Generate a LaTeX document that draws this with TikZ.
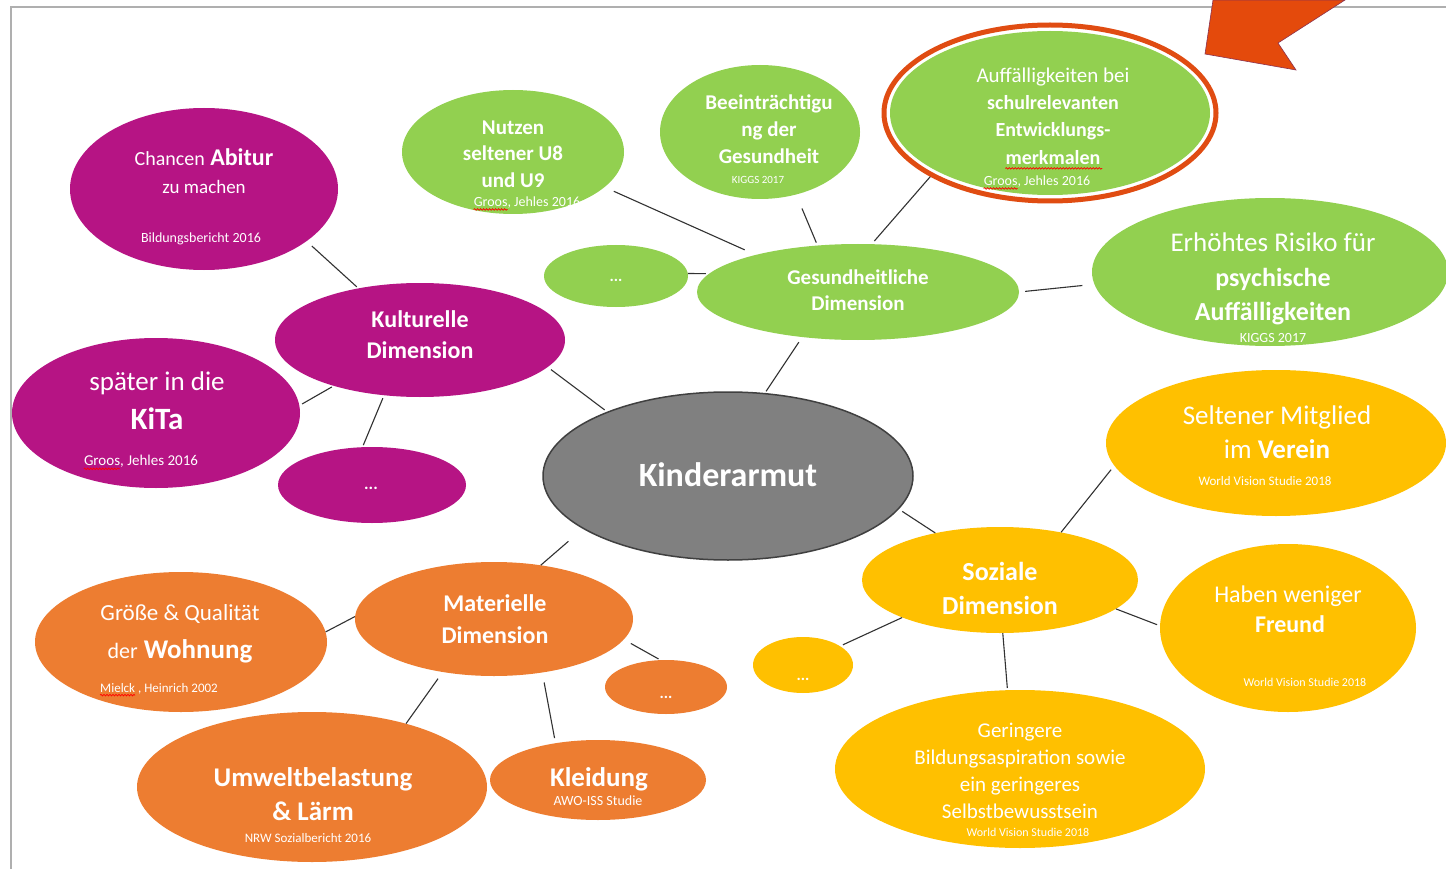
\documentclass[tikz,border=0pt]{standalone}
\usepackage{fontspec}
\setmainfont{Carlito}
\usetikzlibrary{shapes.geometric,decorations.pathmorphing,calc}
\definecolor{cmag}{RGB}{182,20,132}
\definecolor{cgreen}{RGB}{146,208,80}
\definecolor{corange}{RGB}{237,125,49}
\definecolor{cgold}{RGB}{255,192,0}
\definecolor{cgray}{RGB}{128,128,128}
\definecolor{cdark}{RGB}{64,64,64}
\definecolor{cline}{RGB}{50,50,50}
\definecolor{cred}{RGB}{224,76,18}
\definecolor{carrow}{RGB}{228,74,12}
\definecolor{carrowline}{RGB}{140,50,80}
\definecolor{cframe}{RGB}{175,175,175}
\newcommand\myfs[1]{\fontsize{#1}{#1}\selectfont}
\begin{document}
\begin{tikzpicture}[x=1pt,y=-1pt,
  bub/.style n args={3}{ellipse, inner sep=0pt, minimum width=#1pt, minimum height=#2pt, fill=#3},
  tx/.style={text=white, inner sep=0pt, anchor=base, yshift={-0.32*#1pt}, font=\myfs{#1}},
  tb/.style={text=white, inner sep=0pt, anchor=base, yshift={-0.32*#1pt}, font=\myfs{#1}\bfseries},
  conn/.style={draw=cline, line width=1.1pt},
  wavy/.style={draw=red, line width=0.7pt, decorate, decoration={snake, amplitude=0.8pt, segment length=3pt}}
]
\useasboundingbox[fill=white] (0,0) rectangle (1446,869);
% frame
\draw[cframe, line width=2pt] (11,870) -- (11,7) -- (1447,7);
% arrow
\filldraw[fill=carrow, draw=carrowline, line width=0.6pt] (1205,54) -- (1296,70) -- (1278,43) -- (1345,0) -- (1213,0) -- cycle;

% bubbles
\node[bub={268}{162}{cmag}] (abitur) at (204,189) {};
\node[bub={290}{114}{cmag}] (kult) at (420,340) {};
\node[bub={288}{150}{cmag}] (kita) at (156,413) {};
\node[bub={188}{76}{cmag}] (kdots) at (372,485) {};
\node[bub={222}{124}{cgreen}] (nutzen) at (513,152) {};
\node[bub={200}{134}{cgreen}] (beein) at (760,132) {};
\node[ellipse, draw=cred, line width=5pt, minimum width=332pt, minimum height=176pt, inner sep=0pt] (ring) at (1050,113) {};
\node[bub={320}{164}{cgreen}] (auff) at (1050,113) {};
\node[bub={144}{62}{cgreen}] (gdots) at (616,276) {};
\node[bub={322}{96}{cgreen}] (ges) at (858,292) {};
\node[bub={356}{148}{cgreen}] (risiko) at (1270,272) {};
\node[bub={370}{168}{cgray}, draw=cdark, line width=1.5pt] (kinder) at (728,476) {};
\node[bub={340}{146}{cgold}] (verein) at (1276,443) {};
\node[bub={276}{106}{cgold}] (soz) at (1000,580) {};
\node[bub={256}{168}{cgold}] (freund) at (1288,628) {};
\node[bub={100}{56}{cgold}] (sdots) at (803,665) {};
\node[bub={370}{158}{cgold}] (gering) at (1020,769) {};
\node[bub={292}{140}{corange}] (wohn) at (181,642) {};
\node[bub={278}{114}{corange}] (mat) at (494,619) {};
\node[bub={122}{54}{corange}] (mdots) at (666,687) {};
\node[bub={350}{150}{corange}] (umwelt) at (312,787) {};
\node[bub={216}{80}{corange}] (kleid) at (598,780) {};

% connectors
\draw[conn, shorten <=7pt, shorten >=2pt] (abitur.-27) -- (kult.140);
\draw[conn, shorten <=3pt, shorten >=2pt] (kita.3) -- (kult.208);
\draw[conn, shorten <=3pt, shorten >=2pt] (kult.237) -- (kdots.104);
\draw[conn, shorten <=4pt, shorten >=3pt] (kult.-12) -- (kinder.152);
\draw[conn, shorten <=10pt, shorten >=12pt] (nutzen.-21) -- (ges.160);
\draw[conn, shorten <=15pt, shorten >=3pt] (beein.-60) -- (ges.131);
\draw[conn, shorten >=4pt] (ring.208) -- (ges.74);
\draw[conn, shorten >=3pt] (gdots.2) -- (ges.173);
\draw[conn, shorten <=6pt, shorten >=12pt] (ges.0) -- (risiko.184);
\draw[conn, shorten <=6pt, shorten >=2pt] (ges.219) -- (kinder.66);
\draw[conn, shorten <=4pt] (kinder.-11) -- (soz.144);
\draw[conn, shorten <=19pt] (kinder.200) -- (mat.49);
\draw[conn, shorten >=5pt] (soz.38) -- (verein.188);
\draw[conn, shorten >=3pt] (soz.-14) -- (freund.179);
\draw[conn, shorten >=3pt] (soz.201) -- (sdots.27);
\draw[conn, shorten >=2pt] (soz.-87) -- (gering.99);
\draw[conn] (wohn.4) -- (mat.179);
\draw[conn, shorten <=8pt, shorten >=2pt] (mat.-9) -- (mdots.102);
\draw[conn, shorten <=8pt] (mat.226) -- (umwelt.34);
\draw[conn, shorten <=10pt, shorten >=5pt] (mat.-48) -- (kleid.139);

% texts
\node[tx=24] (abitur1) at (204,158) {{\myfs{20}Chancen} \textbf{Abitur}};
\node[tx=19] (abitur2) at (204,187) {zu machen};
\node[tx=14] (abitur3) at (201,238) {Bildungsbericht 2016};

\node[tb=24] (kult1) at (420,320) {Kulturelle};
\node[tb=24] (kult2) at (420,351) {Dimension};

\node[tx=27] (kita1) at (157,382) {später in die};
\node[tb=31] (kita2) at (157,420) {KiTa};
\node[tx=15] (kita3) at (141,461) {Groos, Jehles 2016};
\node[tb=17] (kdots1) at (371,484) {...};

\node[tb=21] (nutzen1) at (513,128) {Nutzen};
\node[tb=21] (nutzen2) at (513,154) {seltener U8};
\node[tb=21] (nutzen3) at (513,181) {und U9};
\node[tx=14] (nutzen4) at (527,202) {Groos, Jehles 2016};

\node[tb=21] (beein1) at (769,103) {Beeinträchtigu};
\node[tb=21] (beein2) at (769,130) {ng der};
\node[tb=21] (beein3) at (769,157) {Gesundheit};
\node[tx=11] (beein4) at (758,180) {KIGGS 2017};

\node[tx=21] (auff1) at (1053,76) {Auffälligkeiten bei};
\node[tb=20] (auff2) at (1053,103) {schulrelevanten};
\node[tb=20] (auff3) at (1053,130) {Entwicklungs-};
\node[tb=20] (auff4) at (1053,158) {merkmalen};
\node[tx=14] (auff5) at (1037,181) {Groos, Jehles 2016};

\node[tb=16] (gdots1) at (616,276) {...};
\node[tb=21] (ges1) at (858,278) {Gesundheitliche};
\node[tb=21] (ges2) at (858,304) {Dimension};

\node[tx=27] (risiko1) at (1273,243) {Erhöhtes Risiko für};
\node[tb=26] (risiko2) at (1273,278) {psychische};
\node[tb=26] (risiko3) at (1273,312) {Auffälligkeiten};
\node[tx=14] (risiko4) at (1273,338) {KIGGS 2017};

\node[tb=34] (kinder1) at (728,476) {Kinderarmut};

\node[tx=27] (verein1) at (1277,416) {Seltener Mitglied};
\node[tx=27] (verein2) at (1277,450) {im \textbf{Verein}};
\node[tx=13] (verein3) at (1265,481) {World Vision Studie 2018};

\node[tb=26] (soz1) at (1000,572) {Soziale};
\node[tb=26] (soz2) at (1000,606) {Dimension};

\node[tx=24] (freund1) at (1288,595) {Haben weniger};
\node[tb=24] (freund2) at (1290,625) {Freund};
\node[tx=12] (freund3) at (1305,683) {World Vision Studie 2018};

\node[tb=16] (sdots1) at (803,675) {...};

\node[tx=21] (gering1) at (1020,731) {Geringere};
\node[tx=21] (gering2) at (1020,758) {Bildungsaspiration sowie};
\node[tx=21] (gering3) at (1020,785) {ein geringeres};
\node[tx=21] (gering4) at (1020,812) {Selbstbewusstsein};
\node[tx=12] (gering5) at (1028,833) {World Vision Studie 2018};

\node[tx=23] (wohn1) at (180,613) {Größe \& Qualität};
\node[tx=27] (wohn2) at (180,650) {{\myfs{22}der} \textbf{Wohnung}};
\node[tx=13] (wohn3) at (159,688) {Mielck , Heinrich 2002};

\node[tb=24] (mat1) at (495,604) {Materielle};
\node[tb=24] (mat2) at (495,636) {Dimension};
\node[tb=16] (mdots1) at (666,693) {...};

\node[tb=27] (umwelt1) at (313,778) {Umweltbelastung};
\node[tb=27] (umwelt2) at (313,812) {\& Lärm};
\node[tx=13] (umwelt3) at (308,838) {NRW Sozialbericht 2016};

\node[tb=27] (kleid1) at (599,778) {Kleidung};
\node[tx=14] (kleid2) at (598,801) {AWO-ISS Studie};

% spell-check marks
\draw[wavy] ($(kita3.base west)+(0,3)$) -- ++(36,0);
\draw[wavy] ($(nutzen4.base west)+(0,3)$) -- ++(34,0);
\draw[wavy] ($(auff5.base west)+(0,3)$) -- ++(34,0);
\draw[wavy] ($(auff4.base west)+(0,4)$) -- ++(97,0);
\draw[wavy] ($(wohn3.base west)+(0,3)$) -- ++(35,0);
\end{tikzpicture}
\end{document}
